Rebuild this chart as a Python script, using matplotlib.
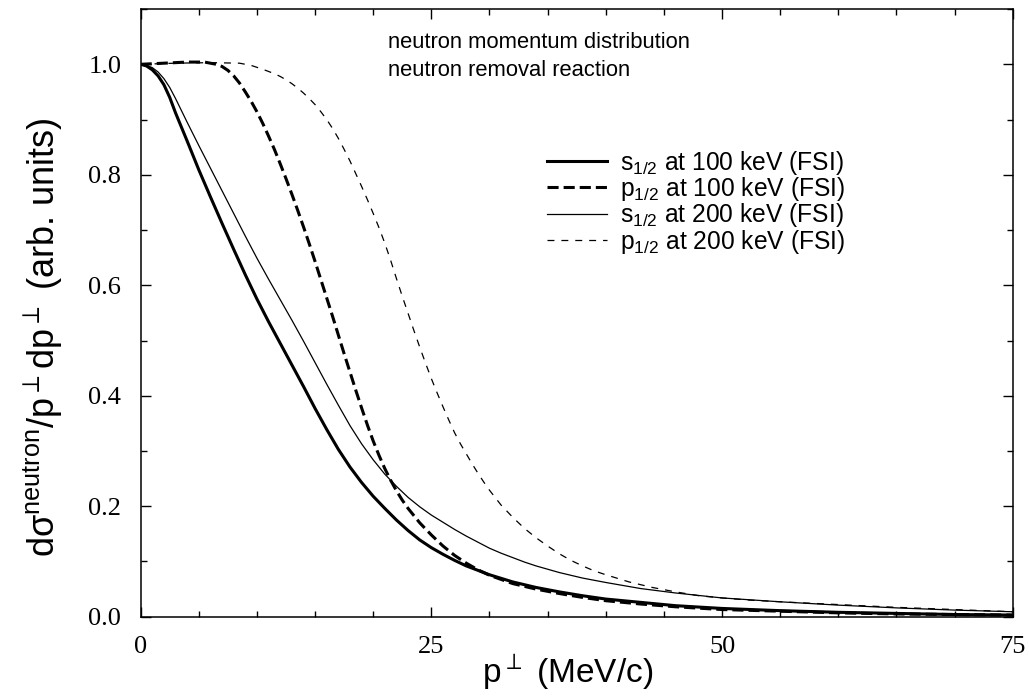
import matplotlib
matplotlib.use("Agg")
import matplotlib.pyplot as plt
from matplotlib.ticker import MultipleLocator

# values: p_perp (MeV/c) vs normalised distribution
s100_x = [0, 0.5, 1, 1.5, 2, 2.5, 3, 4, 5, 6, 7, 8, 9, 10, 11, 12, 13, 14, 15, 16, 17, 18,
          19, 20, 21, 22, 23, 24, 25, 26, 27, 28, 29, 30, 32, 34, 36, 38, 40, 43, 46, 50,
          55, 60, 65, 70, 75]
s100_y = [1.000, 0.997, 0.990, 0.979, 0.963, 0.940, 0.912, 0.861, 0.809, 0.760, 0.712,
          0.665, 0.619, 0.575, 0.534, 0.495, 0.456, 0.417, 0.377, 0.339, 0.303, 0.271,
          0.243, 0.218, 0.196, 0.175, 0.156, 0.139, 0.125, 0.113, 0.102, 0.092, 0.084,
          0.076, 0.063, 0.053, 0.045, 0.038, 0.032, 0.026, 0.020, 0.015, 0.011, 0.008,
          0.006, 0.004, 0.003]

p100_x = [0, 2, 4, 5.5, 6.5, 7, 7.5, 8, 8.5, 9, 9.5, 10, 10.5, 11, 11.5, 12, 12.5, 13, 13.5,
          14, 14.5, 15, 15.5, 16, 16.5, 17, 17.5, 18, 18.5, 19, 19.5, 20, 20.5, 21, 21.5, 22,
          22.5, 23, 24, 25, 26, 27, 28, 29, 30, 32, 34, 36, 38, 40, 43, 46, 50, 55, 60, 65,
          70, 75]
p100_y = [1.000, 1.002, 1.004, 1.004, 1.000, 0.996, 0.989, 0.979, 0.966, 0.950, 0.933,
          0.914, 0.893, 0.870, 0.846, 0.820, 0.793, 0.765, 0.736, 0.706, 0.675, 0.643,
          0.610, 0.577, 0.544, 0.510, 0.476, 0.443, 0.410, 0.378, 0.347, 0.318, 0.292,
          0.268, 0.247, 0.228, 0.211, 0.196, 0.170, 0.148, 0.128, 0.111, 0.097, 0.085,
          0.075, 0.060, 0.050, 0.042, 0.035, 0.029, 0.023, 0.018, 0.013, 0.010, 0.007,
          0.005, 0.004, 0.003]

s200_x = [0, 0.5, 1, 1.5, 2, 2.5, 3, 4, 5, 6, 7, 8, 9, 10, 11, 12, 13, 14, 15, 16, 17, 18,
          19, 20, 21, 22, 23, 24, 25, 26, 27, 28, 29, 30, 31, 32, 33, 34, 36, 38, 40, 43,
          46, 50, 55, 60, 65, 70, 75]
s200_y = [1.000, 0.998, 0.994, 0.986, 0.974, 0.958, 0.938, 0.895, 0.853, 0.812, 0.771,
          0.730, 0.689, 0.649, 0.611, 0.574, 0.537, 0.499, 0.460, 0.421, 0.383, 0.346,
          0.313, 0.284, 0.258, 0.236, 0.216, 0.199, 0.184, 0.171, 0.158, 0.146, 0.135,
          0.124, 0.115, 0.107, 0.099, 0.092, 0.080, 0.070, 0.062, 0.051, 0.043, 0.034,
          0.027, 0.021, 0.016, 0.012, 0.009]

p200_x = [0, 3, 6, 8.5, 9.5, 10.5, 11.5, 12, 12.5, 13, 13.5, 14, 14.5, 15, 15.5, 16, 16.5,
          17, 17.5, 18, 18.5, 19, 19.5, 20, 20.5, 21, 21.5, 22, 22.5, 23, 23.5, 24, 24.5,
          25, 25.5, 26, 26.5, 27, 27.5, 28, 28.5, 29, 29.5, 30, 31, 32, 33, 34, 35, 36, 37,
          38, 39, 40, 42, 44, 46, 48, 50, 52.4, 56, 60, 65, 70, 75]
p200_y = [1.000, 1.002, 1.003, 1.002, 0.998, 0.991, 0.983, 0.978, 0.972, 0.965, 0.957,
          0.948, 0.938, 0.927, 0.914, 0.900, 0.884, 0.866, 0.846, 0.825, 0.802, 0.779,
          0.755, 0.730, 0.704, 0.676, 0.645, 0.612, 0.580, 0.549, 0.518, 0.488, 0.459,
          0.431, 0.405, 0.380, 0.356, 0.333, 0.313, 0.295, 0.277, 0.260, 0.244, 0.229,
          0.202, 0.180, 0.160, 0.143, 0.128, 0.114, 0.102, 0.092, 0.083, 0.076, 0.063,
          0.053, 0.045, 0.038, 0.034, 0.030, 0.026, 0.022, 0.017, 0.013, 0.009]

labels = [r"$\mathregular{s_{1/2}}$ at 100 keV (FSI)",
          r"$\mathregular{p_{1/2}}$ at 100 keV (FSI)",
          r"$\mathregular{s_{1/2}}$ at 200 keV (FSI)",
          r"$\mathregular{p_{1/2}}$ at 200 keV (FSI)"]

x_ticks = [0, 25, 50, 75]
y_ticks = [0.0, 0.2, 0.4, 0.6, 0.8, 1.0]

plt.rcParams["font.family"] = ["Liberation Sans", "DejaVu Sans"]
plt.rcParams["lines.scale_dashes"] = False

fig = plt.figure(figsize=(10.29, 6.96), dpi=100)
ax = fig.add_axes([0.1367, 0.1139, 0.8475, 0.8731])

ax.plot(s100_x, s100_y, color="black", lw=2.2, label=labels[0])
ax.plot(p100_x, p100_y, color="black", lw=2.2, dashes=(8, 3.6), label=labels[1])
ax.plot(s200_x, s200_y, color="black", lw=0.9, label=labels[2])
ax.plot(p200_x, p200_y, color="black", lw=0.9, dashes=(5, 5), label=labels[3])

ax.set_xlim(0, 75)
ax.set_ylim(0, 1.1)
ax.set_xticks(x_ticks)
ax.set_xticklabels([str(t) for t in x_ticks])
ax.set_yticks(y_ticks)
ax.set_yticklabels(["%.1f" % t for t in y_ticks])
ax.xaxis.set_minor_locator(MultipleLocator(5))
ax.yaxis.set_minor_locator(MultipleLocator(0.1))
ax.tick_params(which="both", direction="in", top=True, right=True, width=1.0)
ax.tick_params(which="major", length=7)
ax.tick_params(which="minor", length=4.5)
ax.tick_params(axis="x", pad=14)
ax.tick_params(axis="y", pad=14)
for lab in ax.get_xticklabels() + ax.get_yticklabels():
    lab.set_family("Liberation Serif")
    lab.set_fontsize(19)
for sp in ax.spines.values():
    sp.set_linewidth(1.1)

ax.set_xlabel(r"$\mathregular{p^{\perp}}$ (MeV/c)", fontsize=24)
ax.xaxis.set_label_coords(0.489, -0.058)
ax.set_ylabel(r"d$\mathregular{\sigma^{neutron}/p^{\perp}dp^{\perp}}$ (arb. units)",
              fontsize=26)
ax.yaxis.set_label_coords(-0.087, 0.46)

ax.text(21.3, 1.029, "neutron momentum distribution", fontsize=15.8, va="baseline")
ax.text(21.3, 0.978, "neutron removal reaction", fontsize=15.8, va="baseline")

ax.legend(frameon=False, loc="upper left", bbox_to_anchor=(0.4656, 0.77),
          fontsize=17.7, handlelength=2.45, handletextpad=0.55, labelspacing=-0.07,
          borderpad=0, borderaxespad=0)

fig.savefig("out.png", dpi=100)
